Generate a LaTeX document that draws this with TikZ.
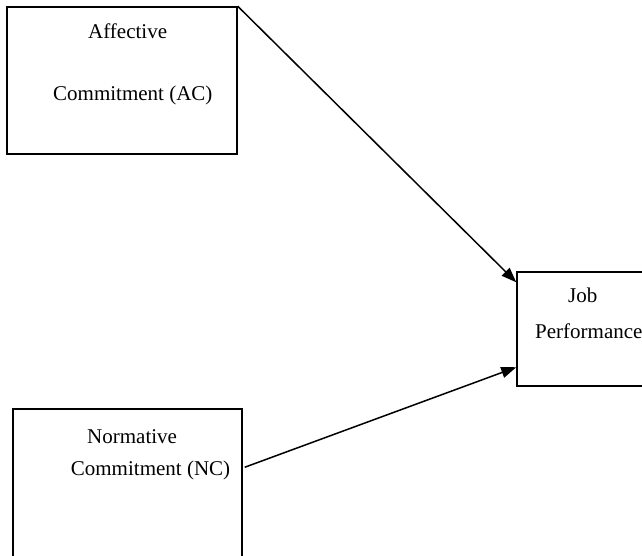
\documentclass[tikz,border=0pt]{standalone}
\usepackage{fontspec}
\setmainfont{Liberation Serif}
\usetikzlibrary{arrows.meta,calc}
\begin{document}
\begin{tikzpicture}[x=1bp,y=-1bp,
  box/.style={draw,line width=1.5bp,inner sep=0pt,minimum width=#1},
  txt/.style={anchor=base west,inner sep=0pt,font=\fontsize{21bp}{25bp}\selectfont},
  conn/.style={line width=1.5bp,-{Triangle[length=15bp,width=11bp]}}]
\useasboundingbox (0,0) rectangle (642,556);
\node[box=230bp,minimum height=147bp] (ac) at (122,80.5) {};
\node[box=148bp,minimum height=114bp] (jp) at (591,329) {};
\node[box=229bp,minimum height=161bp] (nc) at (127.5,489.5) {};
\node[txt] (t1) at (88,39) {Affective};
\node[txt] (t2) at (53,100.7) {Commitment (AC)};
\node[txt] (t3) at (568,302) {Job};
\node[txt] (t4) at (535,338) {Performance};
\node[txt] (t5) at (87,443) {Normative};
\node[txt] (t6) at (70.7,475) {Commitment (NC)};
\draw[conn] (ac.north east) -- ($(jp.north west)+(0,11)$);
\draw[conn] ($(nc.north east)+(2,59)$) -- ($(jp.north west)+(0,96)$);
\end{tikzpicture}
\end{document}
